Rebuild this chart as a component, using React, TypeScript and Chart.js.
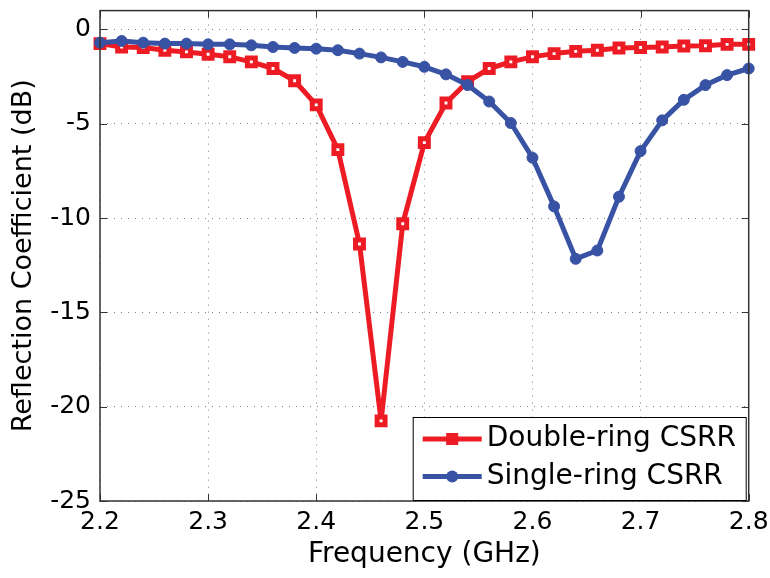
import React, { useEffect, useRef } from "react";
import { Chart, registerables } from "chart.js";
Chart.register(...registerables);

const freqs = [
  2.2, 2.22, 2.24, 2.26, 2.28, 2.3, 2.32, 2.34, 2.36, 2.38, 2.4, 2.42, 2.44, 2.46, 2.48, 2.5,
  2.52, 2.54, 2.56, 2.58, 2.6, 2.62, 2.64, 2.66, 2.68, 2.7, 2.72, 2.74, 2.76, 2.78, 2.8,
];
const doubleRing = [
  -0.75, -0.93, -0.96, -1.1, -1.19, -1.31, -1.45, -1.72, -2.07, -2.72, -4.0, -6.37, -11.37,
  -20.75, -10.3, -6.0, -3.9, -2.77, -2.07, -1.72, -1.45, -1.28, -1.16, -1.1, -0.98, -0.96,
  -0.93, -0.88, -0.86, -0.79, -0.79,
];
const singleRing = [
  -0.7, -0.61, -0.7, -0.75, -0.75, -0.79, -0.79, -0.84, -0.93, -0.98, -1.02, -1.1, -1.28,
  -1.48, -1.72, -1.98, -2.38, -2.95, -3.82, -4.96, -6.8, -9.38, -12.16, -11.72, -8.87, -6.45,
  -4.82, -3.73, -2.95, -2.42, -2.07,
];
const xTicks = [2.2, 2.3, 2.4, 2.5, 2.6, 2.7, 2.8];
const yTicks = [-25, -20, -15, -10, -5, 0];
const seriesNames = ["Double-ring CSRR", "Single-ring CSRR"];
const xTitle = "Frequency (GHz)";
const yTitle = "Reflection Coefficient (dB)";

const RED = "#ED1C24";
const BLUE = "#3953A4";
const FONT = "'DejaVu Sans', sans-serif";

export default function App() {
  const ref = useRef<HTMLCanvasElement>(null);

  useEffect(() => {
    const canvas = ref.current;
    if (!canvas) return;

    const framePlugin = {
      id: "frame",
      afterDatasetsDraw(chart: any) {
        const { ctx, chartArea: a, scales } = chart;
        ctx.save();
        ctx.strokeStyle = "#333";
        ctx.lineWidth = 1;
        const tl = 7;
        ctx.beginPath();
        for (const v of xTicks) {
          const px = Math.round(scales.x.getPixelForValue(v)) + 0.5;
          ctx.moveTo(px, a.bottom);
          ctx.lineTo(px, a.bottom - tl);
          ctx.moveTo(px, a.top);
          ctx.lineTo(px, a.top + tl);
        }
        for (const v of yTicks) {
          const py = Math.round(scales.y.getPixelForValue(v)) + 0.5;
          ctx.moveTo(a.left, py);
          ctx.lineTo(a.left + tl, py);
          ctx.moveTo(a.right, py);
          ctx.lineTo(a.right - tl, py);
        }
        ctx.stroke();
        ctx.lineWidth = 1.5;
        ctx.strokeRect(a.left, a.top, a.right - a.left, a.bottom - a.top);
        ctx.restore();
      },
    };

    const legendPlugin = {
      id: "customLegend",
      afterDraw(chart: any) {
        const { ctx, chartArea: a } = chart;
        const right = a.right - 2;
        const bottom = a.bottom;
        const left = right - 334;
        const top = bottom - 84;
        ctx.save();
        ctx.fillStyle = "#fff";
        ctx.fillRect(left, top, right - left, bottom - top);
        ctx.strokeStyle = "#000";
        ctx.lineWidth = 1;
        ctx.strokeRect(left + 0.5, top + 0.5, right - left - 1, bottom - top - 1);
        const rows = [top + 22, top + 59.5];
        chart.data.datasets.forEach((ds: any, i: number) => {
          const y = rows[i];
          const x0 = left + 10;
          const x1 = left + 69;
          ctx.strokeStyle = ds.borderColor;
          ctx.lineWidth = 5;
          ctx.beginPath();
          ctx.moveTo(x0, y);
          ctx.lineTo(x1, y);
          ctx.stroke();
          ctx.fillStyle = ds.borderColor;
          const cx = (x0 + x1) / 2;
          if (ds.pointStyle === "rect") {
            ctx.fillRect(cx - 6, y - 6, 12, 12);
          } else {
            ctx.beginPath();
            ctx.arc(cx, y, 6, 0, Math.PI * 2);
            ctx.fill();
          }
          ctx.fillStyle = "#000";
          ctx.font = `28px ${FONT}`;
          ctx.textBaseline = "middle";
          ctx.textAlign = "left";
          ctx.fillText(ds.label, left + 74, y);
        });
        ctx.restore();
      },
    };

    const chart = new Chart(canvas, {
      type: "line",
      data: {
        datasets: [
          {
            label: seriesNames[0],
            data: freqs.map((f, i) => ({ x: f, y: doubleRing[i] })),
            borderColor: RED,
            backgroundColor: RED,
            borderWidth: 5,
            borderJoinStyle: "round",
            pointStyle: "rect",
            pointRadius: 5.6,
            pointBorderWidth: 5,
            pointBorderColor: RED,
            pointBackgroundColor: "#fff",
            tension: 0,
            order: 1,
            clip: false,
          } as any,
          {
            label: seriesNames[1],
            data: freqs.map((f, i) => ({ x: f, y: singleRing[i] })),
            borderColor: BLUE,
            backgroundColor: BLUE,
            borderWidth: 5,
            borderJoinStyle: "round",
            pointStyle: "circle",
            pointRadius: 5.5,
            pointBorderWidth: 1,
            pointBorderColor: BLUE,
            pointBackgroundColor: BLUE,
            tension: 0,
            order: 0,
            clip: false,
          } as any,
        ],
      },
      options: {
        responsive: false,
        animation: false,
        devicePixelRatio: 1,
        layout: { padding: { left: 0, top: 6.7, right: 21.3, bottom: 0 } },
        plugins: {
          legend: { display: false },
          tooltip: { enabled: false },
        },
        scales: {
          x: {
            type: "linear",
            min: 2.2,
            max: 2.8,
            afterBuildTicks: (scale: any) => {
              scale.ticks = xTicks.map((v) => ({ value: v }));
            },
            afterFit: (scale: any) => {
              scale.height = 77;
              scale.paddingLeft = 0;
              scale.paddingRight = 0;
              scale.paddingTop = 0;
              scale.paddingBottom = 0;
            },
            ticks: {
              padding: 6.5,
              color: "#000",
              font: { family: FONT, size: 25 },
              maxRotation: 0,
              callback: (v: any) => Number(v).toFixed(1),
            },
            grid: { color: "#808080", lineWidth: 1, drawTicks: false },
            border: { display: false, dash: [1, 6] },
            title: {
              display: true,
              text: xTitle,
              color: "#000",
              font: { family: FONT, size: 28 },
              padding: { top: 0, bottom: 6.2 },
            },
          },
          y: {
            type: "linear",
            min: -25,
            max: 1,
            afterBuildTicks: (scale: any) => {
              scale.ticks = yTicks.map((v) => ({ value: v }));
            },
            afterFit: (scale: any) => {
              scale.width = 100;
              scale.paddingLeft = 0;
              scale.paddingRight = 0;
              scale.paddingTop = 0;
              scale.paddingBottom = 0;
            },
            ticks: {
              padding: 9,
              color: "#000",
              font: { family: FONT, size: 25 },
              callback: (v: any) => String(v),
            },
            grid: { color: "#808080", lineWidth: 1, drawTicks: false },
            border: { display: false, dash: [1, 6] },
            title: {
              display: true,
              text: yTitle,
              color: "#000",
              font: { family: FONT, size: 27 },
              padding: { top: 7.8, bottom: 0 },
            },
          },
        },
      },
      plugins: [framePlugin, legendPlugin],
    });

    return () => chart.destroy();
  }, []);

  return (
    <div style={{ position: "fixed", left: 0, top: 0, width: 770, height: 578, background: "#fff" }}>
      <canvas ref={ref} width={770} height={578} style={{ width: 770, height: 578 }} />
    </div>
  );
}
